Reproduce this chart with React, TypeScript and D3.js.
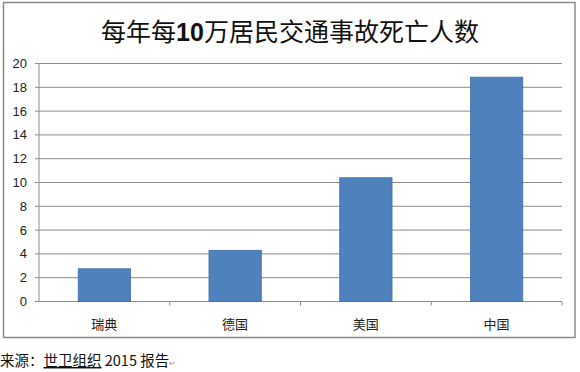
import React from "react";
import * as d3 from "d3";

const categories = ["瑞典", "德国", "美国", "中国"];
const values = [2.75, 4.3, 10.4, 18.85];
const yTicks = [0, 2, 4, 6, 8, 10, 12, 14, 16, 18, 20];

const W = 580;
const H = 372;
const left = 39;
const right = 562;
const top = 63.5;
const bottom = 301.5;

export default function App() {
  const x = d3.scaleBand<string>().domain(categories).range([left, right]).paddingInner(0.6).paddingOuter(0.3);
  const xb = d3.scaleBand<string>().domain(categories).range([left, right]);
  const y = d3.scaleLinear().domain([0, 20]).range([bottom, top]);
  const font = "'Noto Sans CJK SC', 'Noto Sans', sans-serif";
  return (
    <svg width={W} height={H} style={{ position: "absolute", left: 0, top: 0, background: "#fff" }}>
      <rect x={0} y={0} width={W} height={H} fill="#fff" />
      <rect x={3.5} y={2.5} width={571.5} height={335} fill="#fff" stroke="#8a8a8a" strokeWidth={1.5} />
      <text x={290} y={41} textAnchor="middle" fontSize={25} fontFamily={font} fill="#111">
        每年每<tspan fontWeight="bold" fontFamily="'Liberation Sans', 'Noto Sans', sans-serif">10</tspan>万居民交通事故死亡人数
      </text>
      {yTicks.map((t) => (
        <g key={t}>
          {t > 0 && <line x1={left} x2={right} y1={y(t)} y2={y(t)} stroke="#8c8c8c" strokeWidth={1} />}
          <line x1={left - 4} x2={left} y1={y(t)} y2={y(t)} stroke="#8c8c8c" strokeWidth={1} />
          <text x={27} y={y(t) + 4.5} textAnchor="end" fontSize={13} fontFamily="'Liberation Sans', 'DejaVu Sans', sans-serif" fill="#222">
            {t}
          </text>
        </g>
      ))}
      <line x1={left} x2={left} y1={top} y2={bottom} stroke="#8c8c8c" strokeWidth={1} />
      <line x1={left} x2={right} y1={bottom} y2={bottom} stroke="#8c8c8c" strokeWidth={1} />
      {categories.map((c) => (
        <line key={"t" + c} x1={(xb(c) as number) + xb.bandwidth()} x2={(xb(c) as number) + xb.bandwidth()} y1={bottom} y2={bottom + 4} stroke="#8c8c8c" strokeWidth={1} />
      ))}
      {categories.map((c, i) => (
        <rect
          key={c}
          x={x(c)}
          y={y(values[i])}
          width={x.bandwidth()}
          height={bottom - y(values[i])}
          fill="#4f81bd"
          stroke="#3f6fa8"
          strokeWidth={0.8}
        />
      ))}
      {categories.map((c) => (
        <text key={"l" + c} x={(xb(c) as number) + xb.bandwidth() / 2} y={329} textAnchor="middle" fontSize={13} fontFamily={font} fill="#222">
          {c}
        </text>
      ))}
      <text x={0} y={366} fontSize={14.5} fontFamily={font} fill="#111">
        来源：<tspan textDecoration="underline">世卫组织</tspan> 2015 报告<tspan fontSize={8} fill="#999">↵</tspan>
      </text>
    </svg>
  );
}
